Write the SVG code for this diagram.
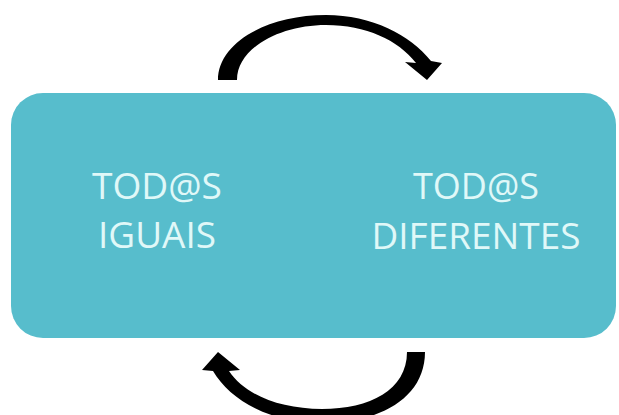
<svg xmlns="http://www.w3.org/2000/svg" width="619" height="415" viewBox="0 0 619 415">
  <style>
    .lbl { font-family: "Open Sans", "Liberation Sans", sans-serif; font-size: 37px; fill: #E0F8F8; text-anchor: middle; }
    .arrow { fill: #000000; }
  </style>
  <rect width="619" height="415" fill="#ffffff"/>
  <g id="box">
    <rect x="11" y="93" width="605" height="245" rx="32" ry="32" fill="#57BDCC"/>
  </g>
  <g id="node-iguais">
    <text class="lbl" x="157" y="199" textLength="130" lengthAdjust="spacingAndGlyphs">TOD@S</text>
    <text class="lbl" x="157" y="248" textLength="118" lengthAdjust="spacingAndGlyphs">IGUAIS</text>
  </g>
  <g id="node-diferentes">
    <text class="lbl" x="476" y="199" textLength="126" lengthAdjust="spacingAndGlyphs">TOD@S</text>
    <text class="lbl" x="476" y="249" textLength="209" lengthAdjust="spacingAndGlyphs">DIFERENTES</text>
  </g>
  <g id="connectors">
    <path class="arrow" d="M218,80 C218,42 268,15 326,15 C372,15 410,35 431,61 L442,63 L427,80 L405,62 L416,63 C398,40 366,25 326,25 C280,25 237,48 237,80 Z"/>
    <path class="arrow" d="M407,352 L425,352 C425,398 380,423 322,423 C270,423 230,400 213,371 L202,370 L218,352 L240,370 L229,371 C245,395 280,409 322,409 C370,409 407,390 407,352 Z"/>
  </g>
</svg>
